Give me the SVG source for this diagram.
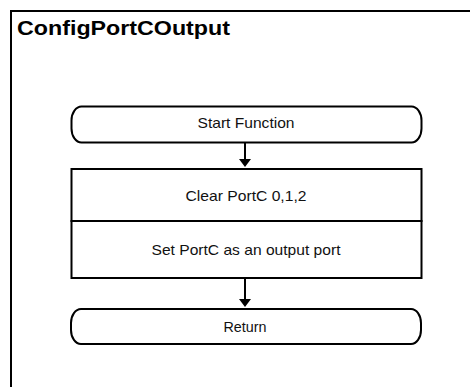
<svg xmlns="http://www.w3.org/2000/svg" width="470" height="387" viewBox="0 0 470 387">
  <style>
    .frame { fill: none; stroke: #000; stroke-width: 2; }
    .shape { fill: #fff; stroke: #000; stroke-width: 2; }
    .wire { fill: none; stroke: #000; stroke-width: 2; }
    .head { fill: #000; stroke: none; }
    .title { font-family: "Liberation Sans", Arial, sans-serif; font-weight: bold; font-size: 20px; fill: #000; }
    .label { font-family: "Liberation Sans", Arial, sans-serif; font-size: 14.5px; fill: #111; text-anchor: middle; }
  </style>
  <rect width="470" height="387" fill="#fff"/>

  <!-- function frame (open to the right and bottom) -->
  <g id="frame">
    <path class="frame" d="M11,387 V11 H470"/>
    <text class="title" x="17" y="35" textLength="213" lengthAdjust="spacingAndGlyphs">ConfigPortCOutput</text>
  </g>

  <!-- connectors -->
  <g id="connectors">
    <line class="wire" x1="245" y1="143" x2="245" y2="160"/>
    <polygon class="head" points="239,159 251,159 245,167"/>
    <line class="wire" x1="245" y1="278" x2="245" y2="300"/>
    <polygon class="head" points="239,299 251,299 245,307"/>
  </g>

  <g id="start">
    <rect class="shape" x="71.5" y="106.5" width="350" height="36" rx="10" ry="14"/>
    <text class="label" x="246" y="128" textLength="97" lengthAdjust="spacingAndGlyphs">Start Function</text>
  </g>

  <g id="clear-portc">
    <rect class="shape" x="71.5" y="169" width="350" height="52"/>
    <text class="label" x="246" y="201" textLength="121" lengthAdjust="spacingAndGlyphs">Clear PortC 0,1,2</text>
  </g>

  <g id="set-output">
    <rect class="shape" x="71.5" y="221" width="350" height="57"/>
    <text class="label" x="246" y="255" textLength="189" lengthAdjust="spacingAndGlyphs">Set PortC as an output port</text>
  </g>

  <g id="return">
    <rect class="shape" x="71" y="309" width="350" height="35" rx="10" ry="14"/>
    <text class="label" x="245" y="332" textLength="43" lengthAdjust="spacingAndGlyphs">Return</text>
  </g>
</svg>
